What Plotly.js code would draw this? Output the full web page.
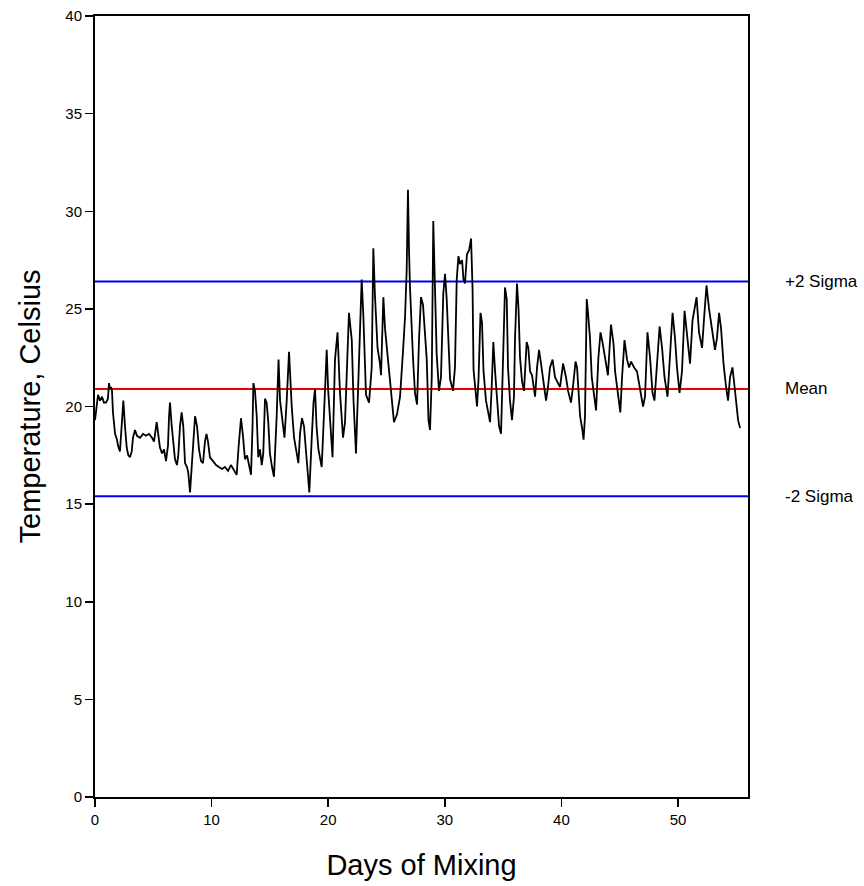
<!DOCTYPE html>
<html>
<head>
<meta charset="utf-8">
<script src="https://cdn.plot.ly/plotly-3.0.1.min.js"></script>
<style>html,body{margin:0;padding:0;background:#fff;}</style>
</head>
<body>
<div id="chart" style="width:864px;height:886px;"></div>
<script>
const days = [
0.00,0.09,0.17,0.26,0.43,0.60,0.77,0.94,1.11,1.20,1.29,1.37,1.46,1.54,1.72,1.89,1.97,2.14,2.23,2.36,2.43,2.57,2.72,2.86,3.00,3.15,3.26,3.43,3.60,3.86,4.12,4.37,4.63,4.89,5.06,5.29,5.40,5.57,5.75,5.92,6.09,6.26,6.35,6.43,6.58,6.72,6.86,7.03,7.14,7.29,7.43,7.57,7.72,7.89,8.00,8.15,8.29,8.43,8.58,8.75,8.92,9.09,9.26,9.43,9.56,9.69,9.86,10.12,10.38,10.63,10.89,11.15,11.41,11.66,11.84,12.15,12.31,12.44,12.52,12.69,12.86,13.04,13.21,13.38,13.51,13.58,13.72,13.87,14.00,
14.15,14.30,14.43,14.58,14.72,14.86,15.00,15.18,15.35,15.58,15.74,15.87,16.04,16.25,16.44,16.64,16.87,17.07,17.30,17.44,17.58,17.75,17.92,18.01,18.22,18.38,18.58,18.74,18.87,19.00,19.16,19.44,19.58,19.77,19.87,20.00,20.15,20.37,20.58,20.80,21.00,21.27,21.44,21.61,21.78,22.02,22.17,22.38,22.58,22.87,23.01,23.24,23.50,23.73,23.87,24.00,24.23,24.44,24.53,24.73,24.87,25.15,25.39,25.64,25.90,26.16,26.41,26.59,26.73,26.84,26.93,27.02,27.27,27.44,27.62,27.79,27.96,
28.13,28.45,28.60,28.73,28.88,29.01,29.16,29.30,29.50,29.67,29.87,30.02,30.16,30.27,30.45,30.70,30.87,31.02,31.17,31.30,31.48,31.60,31.73,31.90,32.08,32.25,32.38,32.46,32.63,32.76,32.89,33.06,33.19,33.32,33.53,33.70,33.88,34.02,34.16,34.31,34.48,34.65,34.82,34.99,35.16,35.31,35.42,35.59,35.76,35.93,36.02,36.19,36.32,36.45,36.62,36.79,37.02,37.16,37.31,37.48,37.74,37.91,38.08,38.25,38.42,38.68,38.85,39.02,39.24,39.45,39.62,39.88,40.14,40.39,40.57,40.82,40.99,41.21,41.34,41.60,41.77,41.90,42.02,42.17,
42.28,42.45,42.60,42.80,42.97,43.17,43.35,43.52,43.77,43.99,44.25,44.47,44.60,44.90,45.05,45.20,45.41,45.63,45.80,45.97,46.23,46.48,46.74,47.00,47.17,47.38,47.60,47.81,47.98,48.20,48.42,48.63,48.84,49.10,49.31,49.53,49.74,49.91,50.13,50.34,50.56,50.77,51.03,51.24,51.59,51.80,52.06,52.23,52.44,52.66,52.92,53.17,53.34,53.52,53.69,53.90,54.12,54.29,54.46,54.67,54.85,54.97,55.15,55.32
];
const temps = [
19.3,19.8,20.3,20.6,20.3,20.5,20.2,20.2,20.4,21.2,20.9,21.0,20.8,19.7,18.6,18.3,18.0,17.7,18.5,19.8,20.3,19.0,17.9,17.5,17.4,17.7,18.4,18.8,18.5,18.4,18.6,18.5,18.6,18.4,18.2,19.2,18.6,17.9,17.6,17.8,17.2,18.0,19.5,20.2,19.0,18.0,17.3,17.0,17.5,19.0,19.7,19.0,17.1,16.9,16.6,15.6,16.8,18.5,19.5,19.0,17.8,17.2,17.1,18.2,18.6,18.2,17.4,17.2,17.0,16.9,16.8,16.9,16.7,17.0,16.8,16.5,17.9,19.0,19.4,18.5,17.3,17.5,17.0,16.5,19.0,21.2,20.8,19.5,17.4,
17.8,17.0,17.6,20.4,20.2,19.2,17.6,16.9,16.4,19.5,22.4,20.3,19.3,18.4,20.3,22.8,20.0,18.4,17.6,17.1,18.6,19.4,19.0,18.3,16.4,15.6,18.3,20.2,20.9,19.0,17.8,16.9,18.8,22.2,22.9,20.8,19.3,17.4,22.4,23.8,20.8,18.4,19.2,21.6,24.8,23.4,20.3,17.6,21.5,26.5,24.7,20.6,20.2,22.0,28.1,25.8,23.0,22.2,21.6,25.6,24.0,22.2,20.5,19.2,19.6,20.5,22.8,24.6,27.0,31.1,28.0,26.0,22.5,20.7,20.1,23.5,25.6,
25.2,22.4,19.3,18.8,21.5,29.5,26.0,22.7,20.8,21.5,25.8,26.8,25.5,23.8,21.4,20.8,22.0,26.5,27.7,27.3,27.5,26.5,26.3,27.8,28.0,28.6,26.0,21.9,20.7,20.0,21.4,24.8,24.3,21.8,20.3,19.8,19.2,21.0,23.3,21.8,20.2,19.0,18.6,22.0,26.1,25.5,22.0,20.3,19.3,20.5,23.5,26.3,25.0,22.5,21.3,20.8,23.3,23.0,21.8,21.6,20.5,22.0,22.9,22.2,21.5,20.3,21.0,22.0,22.4,21.5,21.3,21.0,22.2,21.5,20.8,20.2,21.0,22.3,22.0,19.5,18.9,18.3,19.5,25.5,
24.8,23.5,21.5,20.5,19.8,22.5,23.8,23.3,22.3,21.6,24.2,23.2,21.8,20.3,19.7,21.5,23.4,22.4,22.0,22.3,22.0,21.8,20.8,20.0,20.5,23.8,22.5,20.7,20.3,22.0,24.1,23.0,21.5,20.5,22.8,24.8,23.5,22.0,20.7,21.8,24.9,23.7,22.2,24.4,25.6,23.8,23.0,24.5,26.2,25.0,24.0,22.9,23.5,24.8,24.0,22.2,21.0,20.3,21.5,22.0,21.0,20.2,19.3,18.9
];
const refLabels = ["+2 Sigma", "Mean", "-2 Sigma"];
const refValues = [26.4, 20.9, 15.4];
const refColors = ["#0000ee", "#ee0000", "#0000ee"];
const xRange = [0, 56];
const yRange = [0, 40];

const traces = [];
refValues.forEach((v, i) => {
  traces.push({
    x: xRange, y: [v, v], mode: "lines", type: "scatter",
    line: {color: refColors[i], width: 2}, hoverinfo: "skip", showlegend: false
  });
});
traces.push({
  x: days, y: temps, mode: "lines", type: "scatter",
  line: {color: "#000000", width: 1.8}, showlegend: false
});

const annotations = refLabels.map((t, i) => ({
  text: t, xref: "paper", yref: "y", x: 1.054, y: refValues[i],
  xanchor: "left", yanchor: "middle", showarrow: false,
  font: {family: "Liberation Sans, Arial, sans-serif", size: 17, color: "#000"}
}));

const layout = {
  width: 864, height: 886,
  margin: {l: 95, r: 116, t: 16, b: 89},
  paper_bgcolor: "#fff", plot_bgcolor: "#fff",
  font: {family: "Liberation Sans, Arial, sans-serif", color: "#000"},
  showlegend: false,
  xaxis: {
    range: xRange, dtick: 10, tick0: 0, showgrid: false, zeroline: false,
    ticks: "outside", ticklen: 8, tickwidth: 1.5, tickcolor: "#000",
    showline: true, linecolor: "#000", linewidth: 2, mirror: true,
    tickfont: {size: 15},
    title: {text: "Days of Mixing", font: {size: 29}, standoff: 28}
  },
  yaxis: {
    range: yRange, dtick: 5, tick0: 0, showgrid: false, zeroline: false,
    ticks: "outside", ticklen: 8, tickwidth: 1.5, tickcolor: "#000",
    showline: true, linecolor: "#000", linewidth: 2, mirror: true,
    tickfont: {size: 15},
    title: {text: "Temperature, Celsius", font: {size: 29}, standoff: 16}
  },
  annotations: annotations
};

Plotly.newPlot("chart", traces, layout, {displayModeBar: false, staticPlot: true});
</script>
</body>
</html>
